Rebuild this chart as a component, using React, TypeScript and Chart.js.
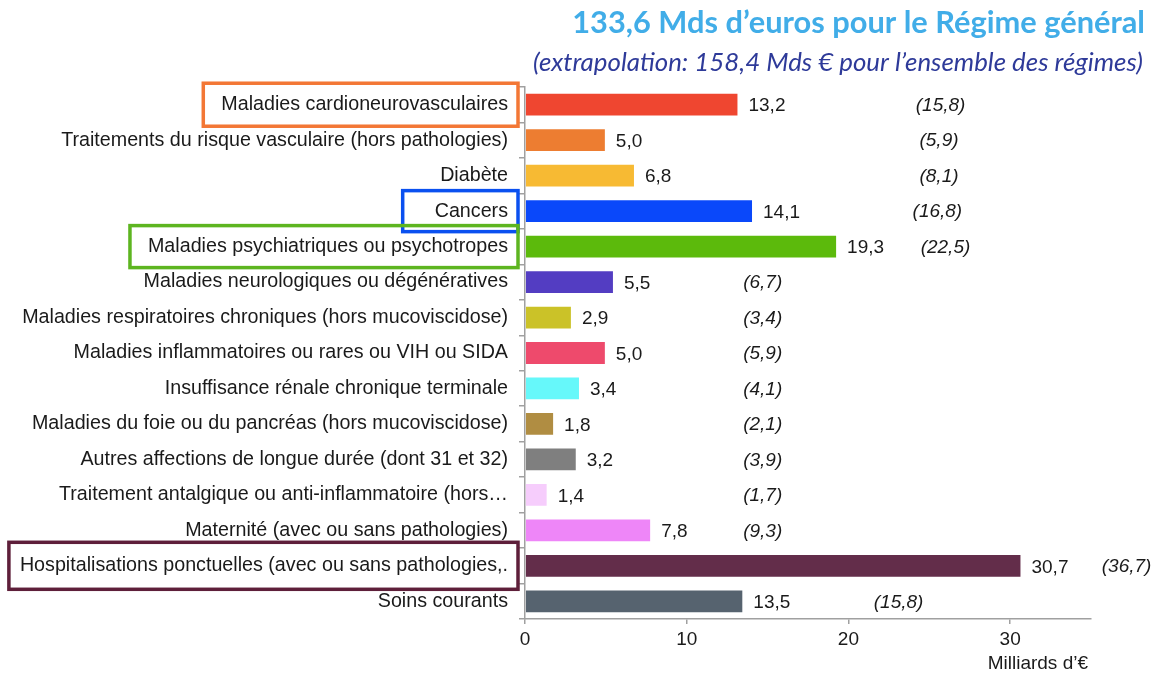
import React, { useEffect, useRef } from "react";
import { Chart, registerables } from "chart.js";

Chart.register(...registerables);

// ---------- data ----------
const categories: string[] = [
  "Maladies cardioneurovasculaires",
  "Traitements du risque vasculaire (hors pathologies)",
  "Diabète",
  "Cancers",
  "Maladies psychiatriques ou psychotropes",
  "Maladies neurologiques ou dégénératives",
  "Maladies respiratoires chroniques (hors mucoviscidose)",
  "Maladies inflammatoires ou rares ou VIH ou SIDA",
  "Insuffisance rénale chronique terminale",
  "Maladies du foie ou du pancréas (hors mucoviscidose)",
  "Autres affections de longue durée (dont 31 et 32)",
  "Traitement antalgique ou anti-inflammatoire (hors…",
  "Maternité (avec ou sans pathologies)",
  "Hospitalisations ponctuelles (avec ou sans pathologies,.",
  "Soins courants",
];

const regimeGeneral: number[] = [13.2, 5.0, 6.8, 14.1, 19.3, 5.5, 2.9, 5.0, 3.4, 1.8, 3.2, 1.4, 7.8, 30.7, 13.5];
const ensembleRegimes: number[] = [15.8, 5.9, 8.1, 16.8, 22.5, 6.7, 3.4, 5.9, 4.1, 2.1, 3.9, 1.7, 9.3, 36.7, 15.8];

const xTickValues: number[] = [0, 10, 20, 30];

const titleText = "133,6 Mds d’euros pour le Régime général";
const subtitleText = "(extrapolation: 158,4 Mds € pour l’ensemble des régimes)";
const xAxisTitle = "Milliards d’€";

// ---------- styles / layout ----------
const barColors: string[] = [
  "#EF4630", "#ED7D31", "#F7BA33", "#0A48FA", "#5CBA0C",
  "#533DC2", "#CBC228", "#EE4A6C", "#66F8FA", "#B08D42",
  "#7F7F7F", "#F6CDFC", "#EE86F8", "#632D4A", "#56636F",
];

// horizontal position (in axis units) of the extrapolation column for each row
const extrapolationColumn: number[] = [25.7, 25.6, 25.6, 25.5, 26.0, 14.7, 14.7, 14.7, 14.7, 14.7, 14.7, 14.7, 14.7, 37.2, 23.1];

const highlights = [
  { index: 0, color: "#F37735", padLeft: 18, height: 43 },
  { index: 3, color: "#0A50F0", padLeft: 32, height: 41 },
  { index: 4, color: "#5DB520", padLeft: 18, height: 42 },
  { index: 13, color: "#5E1F3A", padLeft: 11, height: 47 },
];

const FONT = '"Liberation Sans", Arial, sans-serif';
const HEAD_FONT = 'Lato, "Open Sans", sans-serif';
const LABEL_SIZE = 19.7;
const TICK_LEN = 6;
const TICK_PAD = 11;

const fmt = (v: number) => v.toFixed(1).replace(".", ",");

function fitFont(ctx: CanvasRenderingContext2D, text: string, width: number, style: string, family: string) {
  ctx.font = `${style} 20px ${family}`;
  const w = ctx.measureText(text).width;
  const size = (20 * width) / w;
  ctx.font = `${style} ${size.toFixed(2)}px ${family}`;
}

const overlayPlugin = {
  id: "overlay",
  afterDraw(chart: any) {
    const ctx: CanvasRenderingContext2D = chart.ctx;
    const x = chart.scales.x;
    const y = chart.scales.y;
    const meta = chart.getDatasetMeta(0);
    ctx.save();

    // title + subtitle
    ctx.textAlign = "right";
    ctx.textBaseline = "middle";
    fitFont(ctx, titleText, 573, "bold", HEAD_FONT);
    ctx.fillStyle = "#41ADE8";
    ctx.fillText(titleText, 1145, 23);
    fitFont(ctx, subtitleText, 610, "italic", HEAD_FONT);
    ctx.fillStyle = "#2E3A99";
    ctx.fillText(subtitleText, 1143, 63);

    // value labels
    ctx.font = `19px ${FONT}`;
    ctx.fillStyle = "#1A1A1A";
    ctx.textAlign = "left";
    meta.data.forEach((bar: any, i: number) => {
      ctx.fillText(fmt(regimeGeneral[i]), bar.x + 10, bar.y + 1.5);
    });

    // extrapolation labels
    ctx.font = `italic 19px ${FONT}`;
    ctx.textAlign = "center";
    ensembleRegimes.forEach((v, i) => {
      ctx.fillText(`(${fmt(v)})`, x.getPixelForValue(extrapolationColumn[i]), y.getPixelForValue(i) + 1);
    });

    // x axis title
    ctx.font = `19px ${FONT}`;
    ctx.textAlign = "right";
    ctx.fillText(xAxisTitle, x.right - 3, 664);

    // highlight boxes around labels
    ctx.font = `${LABEL_SIZE}px ${FONT}`;
    const labelRight = y.right - TICK_LEN - TICK_PAD;
    highlights.forEach((h) => {
      const w = ctx.measureText(categories[h.index]).width;
      const cy = y.getPixelForValue(h.index);
      const left = labelRight - w - h.padLeft;
      const right = labelRight + 10;
      ctx.strokeStyle = h.color;
      ctx.lineWidth = 3.5;
      ctx.strokeRect(left, cy - h.height / 2, right - left, h.height);
    });

    ctx.restore();
  },
};

export default function App() {
  const canvasRef = useRef<HTMLCanvasElement | null>(null);

  useEffect(() => {
    if (!canvasRef.current) return;
    const chart = new Chart(canvasRef.current, {
      type: "bar",
      data: {
        labels: categories,
        datasets: [
          {
            data: regimeGeneral,
            backgroundColor: barColors,
            borderColor: "rgba(255,255,255,0.45)",
            borderWidth: 1,
            categoryPercentage: 1,
            barPercentage: 0.67,
          },
        ],
      },
      options: {
        indexAxis: "y",
        animation: false,
        responsive: true,
        maintainAspectRatio: false,
        layout: { padding: { top: 87, right: 67, bottom: 0, left: 0 } },
        plugins: {
          legend: { display: false },
          tooltip: { enabled: false },
          title: { display: false },
        },
        scales: {
          x: {
            type: "linear",
            min: 0,
            max: 35,
            afterFit: (scale: any) => {
              scale.height = 60;
            },
            afterBuildTicks: (scale: any) => {
              scale.ticks = xTickValues.map((v) => ({ value: v }));
            },
            ticks: {
              font: { family: FONT, size: 19 },
              color: "#1A1A1A",
              padding: 4,
              includeBounds: false,
            },
            grid: {
              drawOnChartArea: false,
              drawTicks: true,
              tickLength: 5,
              color: "#A0A0A0",
              lineWidth: 1.5,
            },
            border: { display: true, color: "#A0A0A0", width: 1.5 },
          },
          y: {
            type: "category",
            offset: true,
            afterFit: (scale: any) => {
              scale.width = 525;
            },
            ticks: {
              font: { family: FONT, size: LABEL_SIZE },
              color: "#1A1A1A",
              padding: TICK_PAD,
              autoSkip: false,
            },
            grid: {
              offset: true,
              drawOnChartArea: false,
              drawTicks: true,
              tickLength: TICK_LEN,
              color: "#A0A0A0",
              lineWidth: 1.5,
            },
            border: { display: true, color: "#A0A0A0", width: 1.5 },
          },
        },
      },
      plugins: [overlayPlugin],
    } as any);
    return () => chart.destroy();
  }, []);

  return (
    <div style={{ position: "absolute", left: 0, top: 0, width: 1158, height: 679, background: "#fff" }}>
      <canvas ref={canvasRef} />
    </div>
  );
}
